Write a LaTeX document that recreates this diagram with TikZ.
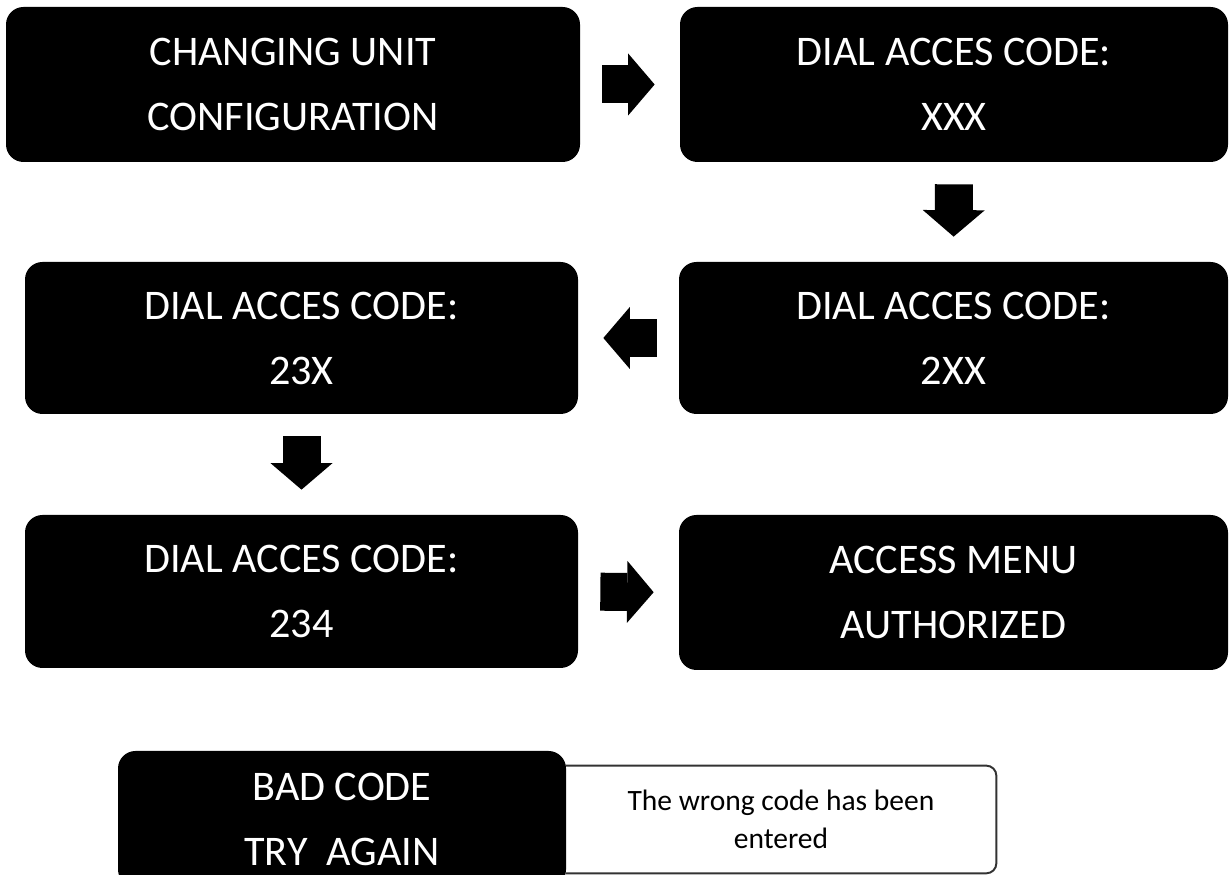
\documentclass[tikz,border=0pt]{standalone}
\usepackage{fontspec}
\setmainfont{Carlito}
\usepackage{tikz}
\usetikzlibrary{arrows.meta,positioning,calc}

\begin{document}
\begin{tikzpicture}[
  lcd/.style={fill=black,text=white,rounded corners=0.35cm,inner sep=0pt,
              minimum width=11.06cm,minimum height=3.06cm,align=center,
              font=\fontsize{24}{37}\selectfont},
  msg/.style={inner sep=0pt,minimum width=8.6cm,minimum height=2.14cm,
              align=center,font=\fontsize{16.8}{21.6}\selectfont},
  msgline/.style={draw=black!80,line width=1.1pt,rounded corners=0.2cm},
  blk/.style={line width=0.76cm,
              -{Triangle[length=0.53cm,width=1.24cm,line width=0pt]},
              shorten <=0.44cm,shorten >=0.5cm},
]
\useasboundingbox (0,0) rectangle (24.58,17.5);

%% ── Row 1: start and first prompt ───────────────────────────────────────
\node[lcd,minimum width=11.48cm,minimum height=3.1cm] (start) at (5.86,15.81)
  {CHANGING UNIT\\CONFIGURATION};
\node[lcd,minimum width=10.96cm,minimum height=3.1cm] (codeX) at (19.08,15.81)
  {DIAL ACCES CODE:\\XXX};

%% ── Row 2: digits entered ───────────────────────────────────────────────
\node[lcd,minimum height=3.04cm] (code23) at (6.03,10.74)
  {DIAL ACCES CODE:\\23X};
\node[lcd,minimum width=10.98cm,minimum height=3.04cm] (code2) at (19.07,10.74)
  {DIAL ACCES CODE:\\2XX};

%% ── Row 3: full code and result ─────────────────────────────────────────
\node[lcd] (code234) at (6.03,5.67)
  {DIAL ACCES CODE:\\234};
\node[lcd,minimum width=10.98cm,minimum height=3.1cm] (auth) at (19.07,5.65)
  {ACCESS MENU\\AUTHORIZED};

%% Flow arrows
\draw[blk] (start.east) -- (codeX.west);
\draw[blk] (codeX.south) -- (code2.north);
\draw[blk] (code2.west) -- (code23.east);
\draw[blk] (code23.south) -- (code234.north);
\draw[blk] (code234.east) -- (auth.west);

%% ── Wrong code message ──────────────────────────────────────────────────
\node[msg] (wrong) at (15.62,1.11) {The wrong code has been\\entered};
\draw[msgline] (wrong.north west) -- (wrong.north east)
  -- (wrong.south east) -- (wrong.south west);
\node[lcd,minimum width=8.96cm,minimum height=2.72cm] (bad) at (6.84,1.12)
  {BAD CODE\\TRY~~AGAIN};

\end{tikzpicture}
\end{document}
